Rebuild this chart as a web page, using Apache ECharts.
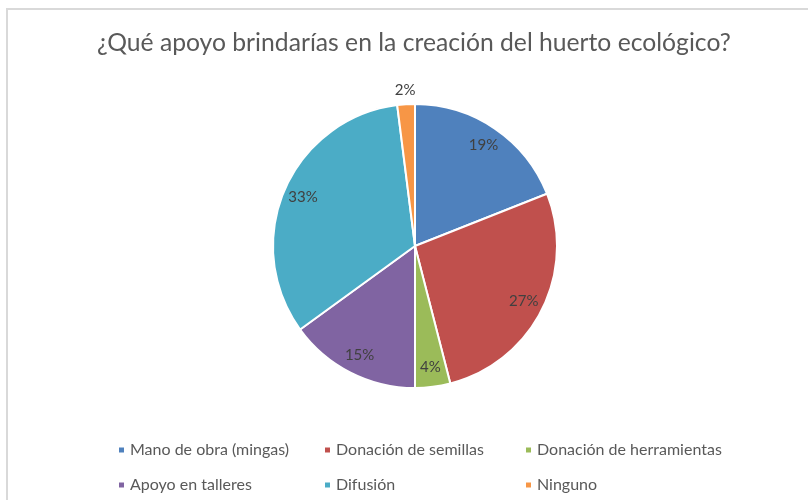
<!DOCTYPE html>
<html><head><meta charset="utf-8">
<script src="https://cdn.jsdelivr.net/npm/echarts@6/dist/echarts.min.js"></script>
<style>
html,body{margin:0;padding:0;background:#fff;}
#frame{position:absolute;left:6px;top:8px;width:900px;height:600px;border:2px solid #d9d9d9;box-sizing:border-box;}
#c{position:absolute;left:0;top:0;width:808px;height:500px;}
</style></head>
<body>
<div id="frame"></div>
<div id="c"></div>
<script>
const titleText = '¿Qué apoyo brindarías en la creación del huerto ecológico?';
const categories = ['Mano de obra (mingas)', 'Donación de semillas', 'Donación de herramientas', 'Apoyo en talleres', 'Difusión', 'Ninguno'];
const values = [19, 27, 4, 15, 33, 2];
const colors = ['#4F81BD', '#C0504D', '#9BBB59', '#8064A2', '#4BACC6', '#F79646'];
const outsideLabelCats = ['Ninguno'];

const font = 'Lato';
const chart = echarts.init(document.getElementById('c'), null, {renderer: 'canvas'});

const baseData = categories.map((n, i) => ({name: n, value: values[i], itemStyle: {color: colors[i]}}));
const fmt = p => p.value + '%';
const labelData = (showOutside) => categories.map((n, i) => {
  const isOut = outsideLabelCats.includes(n);
  const show = showOutside ? isOut : !isOut;
  return {name: n, value: values[i], label: {show: show}};
});

const legendCol = (names, left) => ({
  data: names, orient: 'vertical', left: left, top: 441, padding: 0,
  itemWidth: 7, itemHeight: 7, itemGap: 17, icon: 'rect',
  textStyle: {color: '#595959', fontSize: 16, fontFamily: font, lineHeight: 18}, selectedMode: false
});

chart.setOption({
  animation: false,
  color: colors,
  title: {text: titleText, left: 92, top: 26,
    textStyle: {color: '#595959', fontSize: 24.7, fontWeight: 'normal', fontFamily: font}},
  legend: [
    legendCol([categories[0], categories[3]], 117),
    legendCol([categories[1], categories[4]], 323),
    legendCol([categories[2], categories[5]], 524)
  ],
  series: [
    {type: 'pie', center: [415, 246], radius: [0, 142], startAngle: 90, clockwise: true,
     silent: true, label: {show: false}, labelLine: {show: false},
     itemStyle: {borderColor: '#fff', borderWidth: 2}, data: baseData},
    {type: 'pie', center: [415, 246], radius: [96, 142], startAngle: 90, clockwise: true,
     silent: true, itemStyle: {color: 'rgba(0,0,0,0)'}, labelLine: {show: false},
     label: {position: 'inside', formatter: fmt, color: '#404040', fontSize: 15, fontFamily: font},
     data: labelData(false)},
    {type: 'pie', center: [415, 246], radius: [145, 161], startAngle: 90, clockwise: true,
     silent: true, itemStyle: {color: 'rgba(0,0,0,0)'}, labelLine: {show: false},
     label: {position: 'inside', formatter: fmt, color: '#404040', fontSize: 15, fontFamily: font},
     data: labelData(true)}
  ]
});
</script>
</body></html>
